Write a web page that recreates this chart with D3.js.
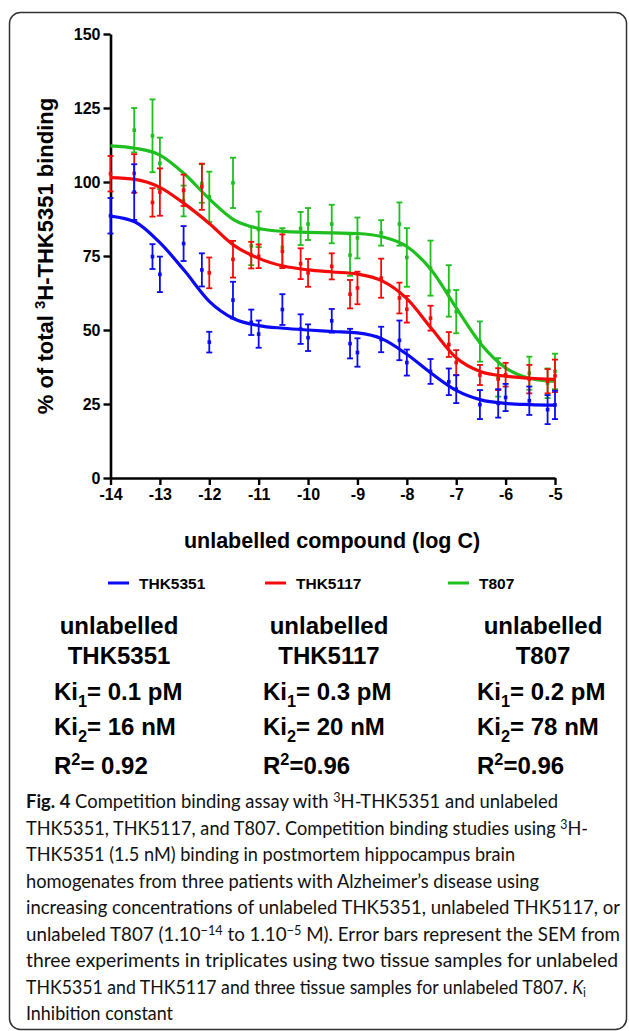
<!DOCTYPE html>
<html>
<head>
<meta charset="utf-8">
<script src="https://cdn.jsdelivr.net/npm/d3@7"></script>
<style>
  body { margin: 0; background: #fff; }
  svg { display: block; }
</style>
</head>
<body>
<div id="chart"></div>
<script>
// concentrations (log M) used in the assay
var logC = [-14, -13.52, -13.15, -13, -12.52, -12.15, -12, -11.52, -11.15, -11,
            -10.52, -10.15, -10, -9.52, -9.15, -9, -8.52, -8.15, -8, -7.52,
            -7.15, -7, -6.52, -6.15, -6, -5.52, -5.15, -5];

var series = ['THK5351', 'THK5117', 'T807'];

// mean % of total binding, and SEM
var thk5351Mean = [88.6, 96.6, 74.8, 68.8, 79.2, 70.3, 45.9, 60.1, 52.6, 48.6,
                   56.9, 50.3, 47.4, 53.1, 45.4, 42.4, 46.8, 46.5, 39.0, 36.0,
                   32.5, 30.0, 24.8, 25.2, 27.2, 26.1, 23.1, 24.7];
var thk5351Sem  = [6.0, 9.4, 4.2, 6.0, 5.9, 5.6, 3.5, 6.2, 4.3, 4.6,
                   5.2, 5.0, 4.5, 4.0, 5.0, 4.8, 4.3, 6.7, 4.4, 4.2,
                   4.5, 4.7, 4.9, 4.8, 4.6, 4.8, 4.9, 4.8];

var thk5117Mean = [102.8, 102.9, 93.1, 96.6, 97.2, 98.4, 69.3, 73.9, 75.3, 74.9,
                   76.6, 72.4, 69.3, 71.5, 62.1, 64.2, 67.5, 60.8, 57.0, 54.0,
                   45.1, 39.0, 34.8, 33.4, 34.9, 33.4, 32.7, 34.5];
var thk5117Sem  = [6.0, 6.5, 4.8, 8.0, 5.3, 7.8, 5.2, 6.2, 4.5, 4.0,
                   5.7, 5.2, 4.7, 4.4, 4.8, 5.5, 6.6, 5.2, 4.5, 4.2,
                   4.2, 4.2, 3.4, 3.7, 4.0, 4.8, 4.1, 5.5];

var t807Mean = [null, 117.5, 115.6, 106.3, 93.6, 99.5, 95.0, 99.7, 78.4, 84.0,
                77.9, 84.3, 85.8, 85.8, 75.3, 81.1, 82.8, 85.8, 74.5, 70.9,
                63.2, 56.2, 46.1, 34.0, null, 35.4, 32.0, 36.0];
var t807Sem  = [null, 7.5, 12.3, 8.7, 5.2, 6.5, 8.5, 8.5, 6.5, 6.0,
                6.5, 5.6, 5.4, 6.5, 7.0, 6.9, 4.3, 7.3, 9.9, 9.3,
                8.7, 7.3, 6.8, 6.5, null, 5.6, 5.0, 6.0];

// fitted curves
var fitLogC = [-14, -13.5, -13, -12.5, -12, -11.5, -11, -10.5, -10, -9.5,
               -9, -8.5, -8, -7.5, -7, -6.5, -6, -5.5, -5];
var thk5351Fit = [88.5, 86.5, 79.5, 70.0, 59.7, 53.8, 51.5, 50.6, 50.0, 49.5,
                  49.0, 47.0, 41.8, 35.3, 29.6, 26.4, 25.2, 24.8, 24.6];
var thk5117Fit = [101.5, 100.9, 98.2, 92.6, 86.0, 78.6, 74.2, 71.6, 70.3, 69.6,
                  68.9, 66.6, 60.6, 50.5, 40.6, 35.9, 34.4, 33.7, 33.3];
var t807Fit    = [112.2, 111.4, 109.1, 102.7, 94.3, 87.2, 84.3, 83.3, 83.0, 82.8,
                  82.6, 81.5, 78.2, 70.2, 57.5, 45.3, 37.2, 33.6, 32.6];

var xTicks = [-14, -13, -12, -11, -10, -9, -8, -7, -6, -5];
var yTicks = [0, 25, 50, 75, 100, 125, 150];

var ki1 = ['= 0.1 pM', '= 0.3 pM', '= 0.2 pM'];
var ki2 = ['= 16 nM', '= 20 nM', '= 78 nM'];
var r2  = ['= 0.92', '=0.96', '=0.96'];

var captionLines = [
  [{t: 'Fig. 4', b: true}, {t: ' Competition binding assay with '}, {t: '3', sup: true}, {t: 'H-THK5351 and unlabeled'}],
  [{t: 'THK5351, THK5117, and T807. Competition binding studies using '}, {t: '3', sup: true}, {t: 'H-'}],
  [{t: 'THK5351 (1.5 nM) binding in postmortem hippocampus brain'}],
  [{t: 'homogenates from three patients with Alzheimer\u2019s disease using'}],
  [{t: 'increasing concentrations of unlabeled THK5351, unlabeled THK5117, or'}],
  [{t: 'unlabeled T807 (1.10'}, {t: '\u221214', sup: true}, {t: ' to 1.10'}, {t: '\u22125', sup: true}, {t: ' M). Error bars represent the SEM from'}],
  [{t: 'three experiments in triplicates using two tissue samples for unlabeled'}],
  [{t: 'THK5351 and THK5117 and three tissue samples for unlabeled T807. '}, {t: 'K', i: true}, {t: 'i', sub: true}],
  [{t: 'Inhibition constant'}]
];
var captionWidths = [532, 562, 489, 513, 594, 594, 592, 560, 147];

// ---- build ----
var W = 629, H = 1031;
var colors = ['#0a0af5', '#f50a0a', '#1fbf1f'];
var boldFont = '"Liberation Sans", Arial, sans-serif';

var svg = d3.select('#chart')
  .append('svg')
    .attr('width', W)
    .attr('height', H);

svg.append('rect')
  .attr('x', 9.5).attr('y', 12.5)
  .attr('width', 617).attr('height', 1017)
  .attr('rx', 11)
  .attr('fill', 'none')
  .attr('stroke', '#333')
  .attr('stroke-width', 1.5);

var x = d3.scaleLinear().domain([-14, -5]).range([110.5, 555]);
var y = d3.scaleLinear().domain([0, 150]).range([478, 34]);

// helper for text with sub/superscripts
function rich(sel, parts, fs, up, down) {
  up = up || 0.38;
  down = down || 0.28;
  var shift = 0;
  parts.forEach(function(p) {
    var want = p.sup ? -fs * up : (p.sub ? fs * down : 0);
    sel.append('tspan')
      .attr('dy', want - shift)
      .attr('font-size', (p.sup || p.sub) ? fs * 0.68 : null)
      .attr('font-weight', p.b ? 'bold' : null)
      .attr('font-style', p.i ? 'italic' : null)
      .text(p.t);
    shift = want;
  });
}

// axes
var yAxis = svg.append('g')
  .attr('transform', 'translate(110.5,0)')
  .call(d3.axisLeft(y).tickValues(yTicks).tickSize(7).tickSizeOuter(0).tickPadding(3));
var xAxis = svg.append('g')
  .attr('transform', 'translate(0,478)')
  .call(d3.axisBottom(x).tickValues(xTicks).tickSize(7).tickSizeOuter(0).tickPadding(4)
        .tickFormat(function(d) { return '-' + Math.abs(d); }));

[yAxis, xAxis].forEach(function(a) {
  a.select('.domain').attr('stroke', '#000').attr('stroke-width', 2.6);
  a.selectAll('.tick line').attr('stroke', '#000').attr('stroke-width', 2.4);
  a.selectAll('.tick text')
    .attr('fill', '#000')
    .attr('font-family', boldFont)
    .attr('font-weight', 'bold')
    .attr('font-size', 16);
});

svg.append('text')
  .attr('x', 332).attr('y', 548)
  .attr('text-anchor', 'middle')
  .attr('font-family', boldFont)
  .attr('font-weight', 'bold')
  .attr('font-size', 21.5)
  .text('unlabelled compound (log C)');

var yTitle = svg.append('text')
  .attr('transform', 'translate(53,256) rotate(-90)')
  .attr('text-anchor', 'middle')
  .attr('font-family', boldFont)
  .attr('font-weight', 'bold')
  .attr('font-size', 22);
rich(yTitle, [{t: '% of total '}, {t: '3', sup: true}, {t: 'H-THK5351 binding'}], 22);

// data marks, drawn green first so blue sits on top
var means = [thk5351Mean, thk5117Mean, t807Mean];
var sems  = [thk5351Sem, thk5117Sem, t807Sem];
var fits  = [thk5351Fit, thk5117Fit, t807Fit];

var line = d3.line()
  .x(function(d) { return x(d[0]); })
  .y(function(d) { return y(d[1]); })
  .curve(d3.curveMonotoneX);

[2, 1, 0].forEach(function(s) {
  var pts = logC.map(function(c, i) {
    return { c: c, m: means[s][i], e: sems[s][i] };
  }).filter(function(d) { return d.m != null; });

  var g = svg.append('g').attr('class', 'series-' + series[s]);

  g.append('path')
    .datum(fitLogC.map(function(c, i) { return [c, fits[s][i]]; }))
    .attr('d', line)
    .attr('fill', 'none')
    .attr('stroke', colors[s])
    .attr('stroke-width', 3.2);

  var bars = g.selectAll('g.bar')
    .data(pts)
    .enter()
      .append('g')
        .attr('class', 'bar')
        .attr('stroke', colors[s])
        .attr('stroke-width', 1.8);

  bars.append('line')
    .attr('x1', function(d) { return x(d.c); })
    .attr('x2', function(d) { return x(d.c); })
    .attr('y1', function(d) { return y(d.m + d.e); })
    .attr('y2', function(d) { return y(d.m - d.e); });
  [1, -1].forEach(function(sign) {
    bars.append('line')
      .attr('x1', function(d) { return x(d.c) - 3; })
      .attr('x2', function(d) { return x(d.c) + 3; })
      .attr('y1', function(d) { return y(d.m + sign * d.e); })
      .attr('y2', function(d) { return y(d.m + sign * d.e); });
  });
  bars.append('rect')
    .attr('x', function(d) { return x(d.c) - 1.8; })
    .attr('y', function(d) { return y(d.m) - 1.8; })
    .attr('width', 3.6).attr('height', 3.6)
    .attr('stroke', 'none')
    .attr('fill', colors[s]);
});

// legend
var legendX = [108, 265, 448];
var legend = svg.append('g').attr('class', 'legend')
  .selectAll('g')
  .data(series)
  .enter()
    .append('g')
      .attr('transform', function(d, i) { return 'translate(' + legendX[i] + ',583)'; });
legend.append('line')
  .attr('x1', 0).attr('x2', 21)
  .attr('stroke', function(d, i) { return colors[i]; })
  .attr('stroke-width', 3);
legend.append('text')
  .attr('x', 31).attr('y', 5.5)
  .attr('font-family', boldFont)
  .attr('font-weight', 'bold')
  .attr('font-size', 15.5)
  .text(function(d) { return d; });

// Ki table
var colCenter = [119, 329, 543];
var colLeft = [54, 263, 477];
series.forEach(function(name, i) {
  var t = svg.append('g')
    .attr('font-family', boldFont)
    .attr('font-weight', 'bold')
    .attr('font-size', 24)
    .attr('fill', '#000');
  t.append('text').attr('x', colCenter[i]).attr('y', 634).attr('text-anchor', 'middle').text('unlabelled');
  t.append('text').attr('x', colCenter[i]).attr('y', 664).attr('text-anchor', 'middle').text(name);
  rich(t.append('text').attr('x', colLeft[i]).attr('y', 700), [{t: 'Ki'}, {t: '1', sub: true}, {t: ki1[i]}], 24);
  rich(t.append('text').attr('x', colLeft[i]).attr('y', 735), [{t: 'Ki'}, {t: '2', sub: true}, {t: ki2[i]}], 24);
  rich(t.append('text').attr('x', colLeft[i]).attr('y', 774), [{t: 'R'}, {t: '2', sup: true}, {t: r2[i]}], 24);
});

// caption
captionLines.forEach(function(parts, i) {
  var t = svg.append('text')
    .attr('x', 26)
    .attr('y', 808 + i * 26.5)
    .attr('font-family', 'Lato, "Open Sans", sans-serif')
    .attr('font-size', 18.5)
    .attr('fill', '#111')
    .attr('textLength', captionWidths[i])
    .attr('lengthAdjust', 'spacingAndGlyphs');
  rich(t, parts, 18.5, 0.3, 0.18);
});
</script>
</body>
</html>
